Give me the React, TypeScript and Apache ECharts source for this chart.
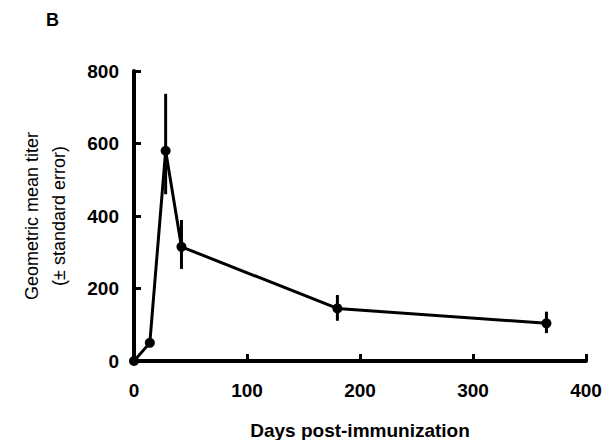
import React, { useEffect, useRef } from "react";
import * as echarts from "echarts";

const days = [0, 14, 28, 42, 180, 365];
const titers = [0, 50, 580, 315, 145, 104];
const errLow = [0, 50, 460, 254, 111, 77];
const errHigh = [0, 50, 737, 389, 182, 136];
const xTicks = [0, 100, 200, 300, 400];
const yTicks = [0, 200, 400, 600, 800];

const FONT = "'Liberation Sans', Arial, sans-serif";

export default function App() {
  const ref = useRef<HTMLDivElement>(null);
  useEffect(() => {
    const chart = echarts.init(ref.current!, null, { renderer: "svg" });
    const errData = days
      .map((d, i) => [d, errLow[i], errHigh[i]])
      .filter((_r, i) => errHigh[i] !== errLow[i]);
    chart.setOption({
      animation: false,
      backgroundColor: "#fff",
      textStyle: { fontFamily: FONT },
      graphic: [
        { type: "text", left: 46, top: 11, style: { text: "B", font: `bold 18px ${FONT}`, fill: "#000" } },
        {
          type: "text",
          x: 32,
          y: 216,
          rotation: Math.PI / 2,
          style: { text: "Geometric mean titer", font: `18px ${FONT}`, fill: "#000", align: "center", verticalAlign: "middle" },
        },
        {
          type: "text",
          x: 59,
          y: 216,
          rotation: Math.PI / 2,
          style: { text: "(± standard error)", font: `18px ${FONT}`, fill: "#000", align: "center", verticalAlign: "middle" },
        },
      ],
      grid: { left: 134, right: 30, top: 71, bottom: 79, containLabel: false, outerBoundsMode: "none" },
      xAxis: {
        type: "value",
        min: xTicks[0],
        max: xTicks[xTicks.length - 1],
        interval: 100,
        name: "Days post-immunization",
        nameLocation: "middle",
        nameGap: 60,
        nameTextStyle: { fontFamily: FONT, fontWeight: "bold", fontSize: 19, color: "#000" },
        axisLine: { lineStyle: { color: "#000", width: 4 } },
        axisTick: { inside: true, length: 7, lineStyle: { color: "#000", width: 3 } },
        axisLabel: { fontFamily: FONT, fontWeight: "bold", fontSize: 19, color: "#000", margin: 20 },
        splitLine: { show: false },
      },
      yAxis: {
        type: "value",
        min: yTicks[0],
        max: yTicks[yTicks.length - 1],
        interval: 200,
        axisLine: { show: true, lineStyle: { color: "#000", width: 4 } },
        axisTick: { show: true, inside: true, length: 7, lineStyle: { color: "#000", width: 3 } },
        axisLabel: { fontFamily: FONT, fontWeight: "bold", fontSize: 19, color: "#000", margin: 15 },
        splitLine: { show: false },
      },
      series: [
        {
          type: "custom",
          data: errData,
          renderItem: (_params: any, api: any) => {
            const p1 = api.coord([api.value(0), api.value(1)]);
            const p2 = api.coord([api.value(0), api.value(2)]);
            return {
              type: "line",
              shape: { x1: p1[0], y1: p1[1], x2: p2[0], y2: p2[1] },
              style: { stroke: "#000", lineWidth: 3 },
            };
          },
          z: 3,
        },
        {
          type: "line",
          data: days.map((d, i) => [d, titers[i]]),
          symbol: "circle",
          symbolSize: 10,
          itemStyle: { color: "#000" },
          lineStyle: { color: "#000", width: 3 },
          z: 4,
        },
      ],
    });
    return () => chart.dispose();
  }, []);
  return (
    <div
      ref={ref}
      style={{ position: "absolute", left: 0, top: 0, width: 616, height: 440 }}
    />
  );
}
